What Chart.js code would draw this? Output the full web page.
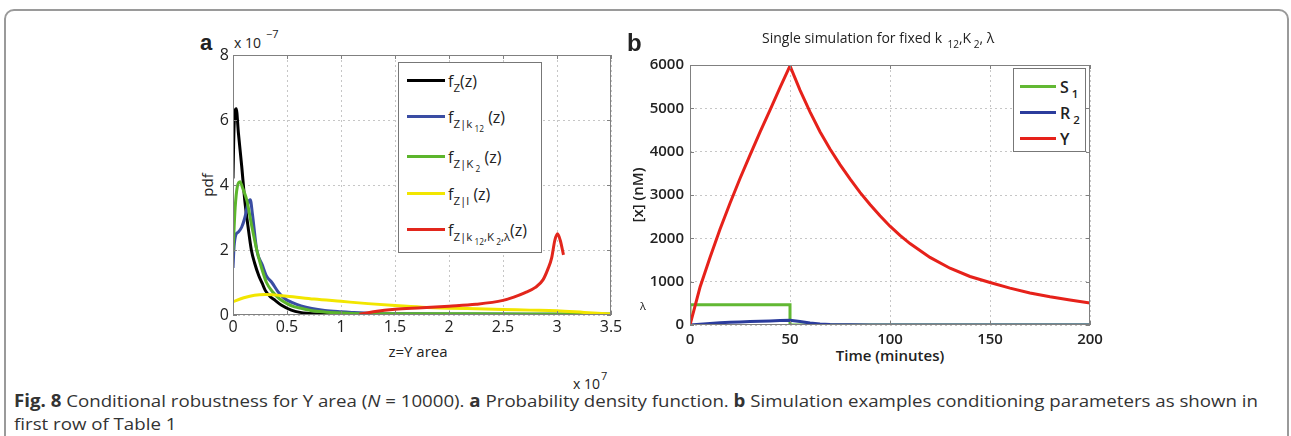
<!DOCTYPE html>
<html>
<head>
<meta charset="utf-8">
<script src="https://cdn.jsdelivr.net/npm/chart.js@4.4.1/dist/chart.umd.min.js"></script>
<style>
  body { margin: 0; width: 1291px; height: 436px; overflow: hidden; background: #fff;
         font-family: 'Open Sans', sans-serif; color: #222; position: relative; }
  #frame { position: absolute; left: 4px; top: 9px; width: 1281px; height: 480px;
           border: 2px solid #9a9a9a; border-radius: 10px; }
  canvas { position: absolute; }
  .txt { position: absolute; white-space: nowrap; line-height: 1; }
  .ctr { transform: translate(-50%, -50%); }
  .rot { transform: translate(-50%, -50%) rotate(-90deg); }
  .letter { font-family: 'Liberation Sans', Arial, sans-serif; font-weight: bold; }
  .sb { font-size: 0.72em; position: relative; top: 0.45em; }
  .legend { position: absolute; background: #fff; border: 1px solid #777; }
  .row { position: absolute; left: 0; right: 0; height: 20px; }
  .row .sw { position: absolute; top: 8px; height: 3px; }
  .row .lab { position: absolute; top: 0; line-height: 20px; white-space: nowrap; }
  .caption { position: absolute; left: 14px; font-size: 17px; white-space: nowrap;
             line-height: 1; transform-origin: 0 50%; color: #333; }
</style>
</head>
<body>
<div id="frame"></div>

<!-- panel a -->
<div class="txt letter" style="left:200px;top:32px;font-size:22px">a</div>
<div class="txt" style="left:234px;top:36px;font-size:14px">x 10</div>
<div class="txt" style="left:266px;top:28px;font-size:11px">&minus;7</div>
<div class="txt rot" style="left:207px;top:185px;font-size:15px">pdf</div>
<div class="txt ctr" style="left:418px;top:351px;font-size:15px">z=Y area</div>
<div class="txt" style="left:573px;top:377px;font-size:14px">x 10</div>
<div class="txt" style="left:601px;top:370px;font-size:11px">7</div>
<canvas id="pdf-chart" width="451" height="300" style="left:180px;top:40px"></canvas>

<div class="legend" style="left:398px;top:62px;width:142px;height:189px;font-size:16px">
  <div class="row" style="top:8px"><span class="sw" style="left:8px;width:38px;background:#000"></span>
    <span class="lab" style="left:49px">f<span class="sb">Z</span>(z)</span></div>
  <div class="row" style="top:44px"><span class="sw" style="left:8px;width:38px;background:#3a4da3"></span>
    <span class="lab" style="left:49px">f<span class="sb">Z|k<span class="sb">&nbsp;12</span></span>&nbsp;(z)</span></div>
  <div class="row" style="top:84px"><span class="sw" style="left:8px;width:38px;background:#5cb52c"></span>
    <span class="lab" style="left:49px">f<span class="sb">Z|K<span class="sb">&nbsp;2</span></span>&nbsp;(z)</span></div>
  <div class="row" style="top:121px"><span class="sw" style="left:8px;width:38px;background:#f2e600"></span>
    <span class="lab" style="left:49px">f<span class="sb">Z|l</span>&nbsp;(z)</span></div>
  <div class="row" style="top:157px"><span class="sw" style="left:8px;width:38px;background:#e2261c"></span>
    <span class="lab" style="left:49px">f<span class="sb">Z|k<span class="sb">&nbsp;12</span>,K<span class="sb">&nbsp;2</span>,λ</span>(z)</span></div>
</div>

<!-- panel b -->
<div class="txt letter" style="left:627px;top:31px;font-size:24px">b</div>
<div class="txt" style="left:762px;top:31px;font-size:14px">Single simulation for fixed k<span class="sb">&nbsp;&nbsp;12</span>,K<span class="sb">&nbsp;2</span>, λ</div>
<div class="txt rot" style="left:637px;top:195px;font-size:15px;font-weight:600">[x] (nM)</div>
<div class="txt ctr" style="left:890px;top:355px;font-size:15px;font-weight:600">Time (minutes)</div>
<div class="txt ctr" style="left:643px;top:305px;font-size:11px">λ</div>
<canvas id="sim-chart" width="480" height="300" style="left:630px;top:50px"></canvas>

<div class="legend" style="left:1013px;top:68px;width:71px;height:82px;font-size:16px;font-weight:600">
  <div class="row" style="top:8px"><span class="sw" style="left:6px;width:36px;background:#62b833"></span>
    <span class="lab" style="left:46px">S<span class="sb">&nbsp;1</span></span></div>
  <div class="row" style="top:34px"><span class="sw" style="left:6px;width:36px;background:#2b3c9c"></span>
    <span class="lab" style="left:46px">R<span class="sb">&nbsp;2</span></span></div>
  <div class="row" style="top:60px"><span class="sw" style="left:6px;width:36px;background:#e6211a"></span>
    <span class="lab" style="left:46px">Y</span></div>
</div>

<!-- caption -->
<div class="caption" id="cap1" style="top:392px"><b>Fig. 8</b> Conditional robustness for Y area (<i>N</i> = 10000). <b>a</b> Probability density function. <b>b</b> Simulation examples conditioning parameters as shown in</div>
<div class="caption" id="cap2" style="top:415px">first row of Table 1</div>

<script>
// ---- panel a: pdf of z (x in units of 1e7, y in units of 1e-7) ----
const pdfXTicks = [0, 0.5, 1, 1.5, 2, 2.5, 3, 3.5];
const pdfYTicks = [0, 2, 4, 6, 8];

const fzX = [0, 0.01, 0.03, 0.05, 0.08, 0.11, 0.14, 0.17, 0.2, 0.24, 0.27, 0.3, 0.35, 0.39, 0.45, 0.54, 0.62, 0.7, 0.8, 0.9, 1.0, 1.1];
const fzY = [4.2, 5.8, 6.35, 5.6, 4.6, 3.5, 2.7, 2.0, 1.6, 1.2, 0.98, 0.75, 0.55, 0.45, 0.3, 0.15, 0.08, 0.05, 0.03, 0.02, 0.01, 0];

const fzk12X = [0, 0.01, 0.025, 0.05, 0.08, 0.11, 0.14, 0.16, 0.18, 0.22, 0.27, 0.31, 0.36, 0.42, 0.48, 0.55, 0.63, 0.73, 0.85, 1.0, 1.1, 1.3, 1.6, 2, 2.5, 3, 3.5];
const fzk12Y = [1.45, 2.1, 2.45, 2.55, 2.7, 3.0, 3.45, 3.55, 3.1, 2.0, 1.55, 1.2, 1.0, 0.7, 0.5, 0.38, 0.28, 0.2, 0.14, 0.1, 0.08, 0.05, 0.04, 0.03, 0.03, 0.02, 0.02];

const fzK2X = [0, 0.02, 0.04, 0.065, 0.09, 0.13, 0.17, 0.22, 0.26, 0.31, 0.37, 0.43, 0.5, 0.57, 0.64, 0.75, 0.9, 1.1, 1.5, 2, 2.5, 3, 3.5];
const fzK2Y = [1.95, 3.3, 3.95, 4.1, 3.9, 3.5, 2.8, 2.0, 1.5, 1.0, 0.7, 0.5, 0.35, 0.25, 0.2, 0.12, 0.08, 0.05, 0.04, 0.04, 0.03, 0.03, 0.03];

const fzlX = [0, 0.1, 0.2, 0.3, 0.5, 0.75, 1.0, 1.25, 1.5, 1.75, 2.0, 2.25, 2.5, 2.75, 3.0, 3.25, 3.5];
const fzlY = [0.41, 0.53, 0.61, 0.63, 0.58, 0.49, 0.42, 0.35, 0.29, 0.24, 0.21, 0.19, 0.17, 0.15, 0.13, 0.08, 0.03];

const fzAllX = [1.17, 1.3, 1.5, 1.75, 2.0, 2.25, 2.5, 2.6, 2.7, 2.8, 2.87, 2.92, 2.95, 2.98, 3.005, 3.03, 3.06];
const fzAllY = [0.02, 0.1, 0.18, 0.22, 0.27, 0.33, 0.45, 0.55, 0.68, 0.85, 1.08, 1.45, 1.75, 2.3, 2.5, 2.3, 1.85];

// ---- panel b: single simulation ----
const simXTicks = [0, 50, 100, 150, 200];
const simYTicks = [0, 1000, 2000, 3000, 4000, 5000, 6000];

const s1Time = [0, 0, 50, 50, 200];
const s1Conc = [0, 470, 470, 0, 0];

const r2Time = [0, 5, 10, 15, 20, 25, 30, 35, 40, 45, 50, 55, 60, 65, 70, 80, 90, 100, 200];
const r2Conc = [0, 18, 35, 50, 62, 72, 80, 88, 95, 102, 110, 80, 45, 22, 10, 4, 2, 0, 0];

const yTime = [0, 5, 10, 15, 20, 25, 30, 35, 40, 45, 50, 55, 60, 65, 70, 75, 80, 85, 90, 95, 100, 105, 110, 120, 130, 140, 150, 160, 170, 180, 190, 200];
const yConc = [0, 870, 1560, 2210, 2810, 3380, 3920, 4450, 4960, 5480, 5980, 5420, 4920, 4460, 4060, 3700, 3370, 3060, 2780, 2520, 2280, 2070, 1880, 1560, 1310, 1120, 980, 850, 740, 650, 575, 510];

const pts = (xs, ys) => xs.map((x, i) => ({ x, y: ys[i] }));

// matlab-ish box with inward tick marks
const axesBox = {
  id: 'axesBox',
  afterDraw(chart) {
    const { ctx, chartArea: a, scales } = chart;
    ctx.save();
    ctx.strokeStyle = '#808080';
    ctx.lineWidth = 1;
    ctx.strokeRect(a.left + 0.5, a.top + 0.5, a.width - 1, a.height - 1);
    ctx.beginPath();
    scales.x.ticks.forEach(t => {
      const px = Math.round(scales.x.getPixelForValue(t.value)) + 0.5;
      ctx.moveTo(px, a.bottom); ctx.lineTo(px, a.bottom - 4);
      ctx.moveTo(px, a.top); ctx.lineTo(px, a.top + 4);
    });
    scales.y.ticks.forEach(t => {
      const py = Math.round(scales.y.getPixelForValue(t.value)) + 0.5;
      ctx.moveTo(a.left, py); ctx.lineTo(a.left + 4, py);
      ctx.moveTo(a.right, py); ctx.lineTo(a.right - 4, py);
    });
    ctx.stroke();
    ctx.restore();
  }
};

function axis(min, max, tickVals, fitKey, fitSize, font, pad) {
  return {
    type: 'linear', min, max,
    afterBuildTicks: s => { s.ticks = tickVals.map(v => ({ value: v })); },
    afterFit: s => { s[fitKey] = fitSize; },
    grid: { color: '#c6c6c6', lineWidth: 1, drawTicks: false },
    border: { display: false, dash: [2, 3] },
    ticks: { font, color: '#222', padding: pad, maxRotation: 0, autoSkip: false,
             callback: v => String(v) }
  };
}

function line(data, color, order, tension) {
  return { data, borderColor: color, borderWidth: 3, pointRadius: 0, order,
           tension: tension, cubicInterpolationMode: tension ? 'monotone' : 'default',
           fill: false };
}

const commonPlugins = { legend: { display: false }, tooltip: { enabled: false } };

new Chart(document.getElementById('pdf-chart'), {
  type: 'line',
  data: {
    datasets: [
      line(pts(fzX, fzY), '#000000', 5, 0.3),
      line(pts(fzk12X, fzk12Y), '#3a4da3', 4, 0.3),
      line(pts(fzK2X, fzK2Y), '#5cb52c', 3, 0.3),
      line(pts(fzlX, fzlY), '#f2e600', 2, 0.3),
      line(pts(fzAllX, fzAllY), '#e2261c', 1, 0.3)
    ]
  },
  options: {
    responsive: false, animation: false,
    layout: { padding: { top: 15, right: 20, left: 0, bottom: 0 } },
    scales: {
      x: axis(0, 3.5, pdfXTicks, 'height', 25, { family: 'Open Sans', size: 16 }, 3),
      y: axis(0, 8, pdfYTicks, 'width', 53, { family: 'Open Sans', size: 16 }, 4)
    },
    plugins: commonPlugins
  },
  plugins: [axesBox]
});

new Chart(document.getElementById('sim-chart'), {
  type: 'line',
  data: {
    datasets: [
      line(pts(s1Time, s1Conc), '#62b833', 3, 0),
      line(pts(r2Time, r2Conc), '#2b3c9c', 2, 0),
      line(pts(yTime, yConc), '#e6211a', 1, 0)
    ]
  },
  options: {
    responsive: false, animation: false,
    layout: { padding: { top: 15, right: 20, left: 0, bottom: 0 } },
    scales: {
      x: axis(0, 200, simXTicks, 'height', 25, { family: 'Open Sans', size: 15, weight: 600 }, 6),
      y: axis(0, 6000, simYTicks, 'width', 60, { family: 'Open Sans', size: 15, weight: 600 }, 6)
    },
    plugins: commonPlugins
  },
  plugins: [axesBox]
});

// squeeze the caption to the reference line width
const cap1 = document.getElementById('cap1');
const k = 1244 / cap1.getBoundingClientRect().width;
['cap1', 'cap2'].forEach(id => {
  document.getElementById(id).style.transform = `scaleX(${k})`;
});
</script>
</body>
</html>
